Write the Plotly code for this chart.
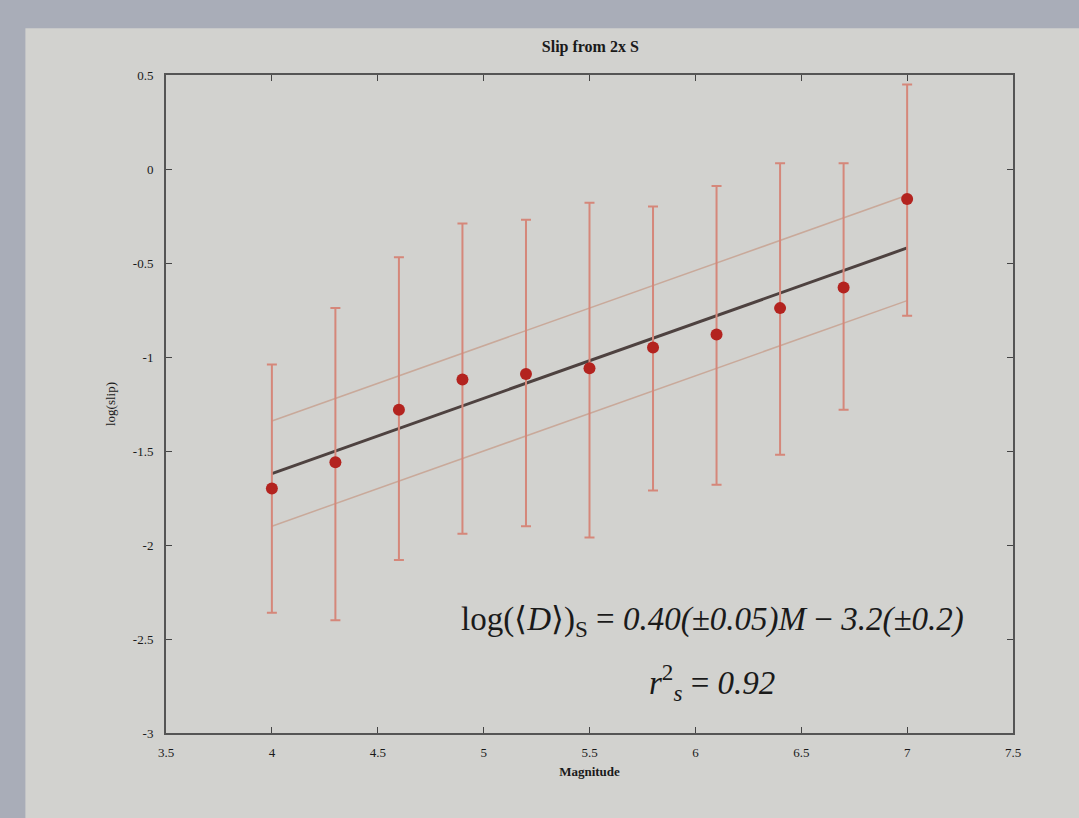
import plotly.graph_objects as go
import numpy as np

# Data
magnitude = [4.0, 4.3, 4.6, 4.9, 5.2, 5.5, 5.8, 6.1, 6.4, 6.7, 7.0]
log_slip = [-1.70, -1.56, -1.28, -1.12, -1.09, -1.06, -0.95, -0.88, -0.74, -0.63, -0.16]
bar_top = [-1.04, -0.74, -0.47, -0.29, -0.27, -0.18, -0.20, -0.09, 0.03, 0.03, 0.45]
bar_bottom = [-2.36, -2.40, -2.08, -1.94, -1.90, -1.96, -1.71, -1.68, -1.52, -1.28, -0.78]

fit_x = [4.0, 7.0]
fit_y = [-1.62, -0.42]
upper_y = [-1.34, -0.14]
lower_y = [-1.90, -0.70]

x_ticks = [3.5, 4, 4.5, 5, 5.5, 6, 6.5, 7, 7.5]
x_tick_text = ["3.5", "4", "4.5", "5", "5.5", "6", "6.5", "7", "7.5"]
y_ticks = [0.5, 0, -0.5, -1, -1.5, -2, -2.5, -3]
y_tick_text = ["0.5", "0", "-0.5", "-1", "-1.5", "-2", "-2.5", "-3"]

err_plus = (np.array(bar_top) - np.array(log_slip)).tolist()
err_minus = (np.array(log_slip) - np.array(bar_bottom)).tolist()

fig = go.Figure()

fig.add_trace(go.Scatter(x=fit_x, y=upper_y, mode="lines",
                         line=dict(color="#c9a99a", width=1.5), showlegend=False))
fig.add_trace(go.Scatter(x=fit_x, y=lower_y, mode="lines",
                         line=dict(color="#c9a99a", width=1.5), showlegend=False))
fig.add_trace(go.Scatter(x=fit_x, y=fit_y, mode="lines",
                         line=dict(color="#4e4240", width=3), showlegend=False))
fig.add_trace(go.Scatter(
    x=magnitude, y=log_slip, mode="markers",
    marker=dict(color="#b3231f", size=12),
    error_y=dict(type="data", symmetric=False, array=err_plus, arrayminus=err_minus,
                 color="#d5877a", thickness=2, width=5),
    showlegend=False))

font_serif = "Liberation Serif, Times New Roman, serif"

fig.update_layout(
    width=1079, height=818,
    paper_bgcolor="#a9adb8",
    plot_bgcolor="#d2d2cf",
    margin=dict(l=166, r=66, t=75, b=85),
    font=dict(family=font_serif, color="#2a2a2a", size=12),
    title=dict(text="<b>Slip from 2x S</b>", x=0.5471, xanchor="center", y=0.943, yanchor="middle",
               font=dict(size=16, color="#1a1a1a", family=font_serif)),
    shapes=[dict(type="rect", xref="paper", yref="paper", x0=-0.166, x1=1.2, y0=-0.3, y1=1.071,
                 fillcolor="#d2d2cf", line=dict(width=0), layer="below")],
    annotations=[
        dict(text="log(⟨<i>D</i>⟩)<sub>S</sub> = <i>0.40(±0.05)M</i> − <i>3.2(±0.2)</i>",
             x=0.645, y=0.169, xref="paper", yref="paper", xanchor="center", yanchor="middle",
             showarrow=False, font=dict(size=33, color="#1a1a1a", family=font_serif)),
        dict(text="<i>r</i><sup>2</sup><sub><i>s</i></sub> = <i>0.92</i>",
             x=0.645, y=0.076, xref="paper", yref="paper", xanchor="center", yanchor="middle",
             showarrow=False, font=dict(size=33, color="#1a1a1a", family=font_serif)),
    ],
)

fig.update_xaxes(range=[3.5, 7.5], tickvals=x_ticks, ticktext=x_tick_text,
                 ticks="inside", ticklen=6, tickcolor="#444", mirror="ticks",
                 showline=True, linecolor="#555", linewidth=2, showgrid=False, zeroline=False,
                 ticklabelstandoff=6,
                 tickfont=dict(size=13, color="#1a1a1a"),
                 title=dict(text="<b>Magnitude</b>", font=dict(size=13, color="#1a1a1a"), standoff=8))
fig.update_yaxes(range=[-3, 0.5], tickvals=y_ticks, ticktext=y_tick_text,
                 ticks="inside", ticklen=6, tickcolor="#444", mirror="ticks",
                 showline=True, linecolor="#555", linewidth=2, showgrid=False, zeroline=False,
                 ticklabelstandoff=8,
                 tickfont=dict(size=13, color="#1a1a1a"),
                 title=dict(text="log(slip)", font=dict(size=13, color="#1a1a1a"), standoff=14))

fig.write_html("out.html")
